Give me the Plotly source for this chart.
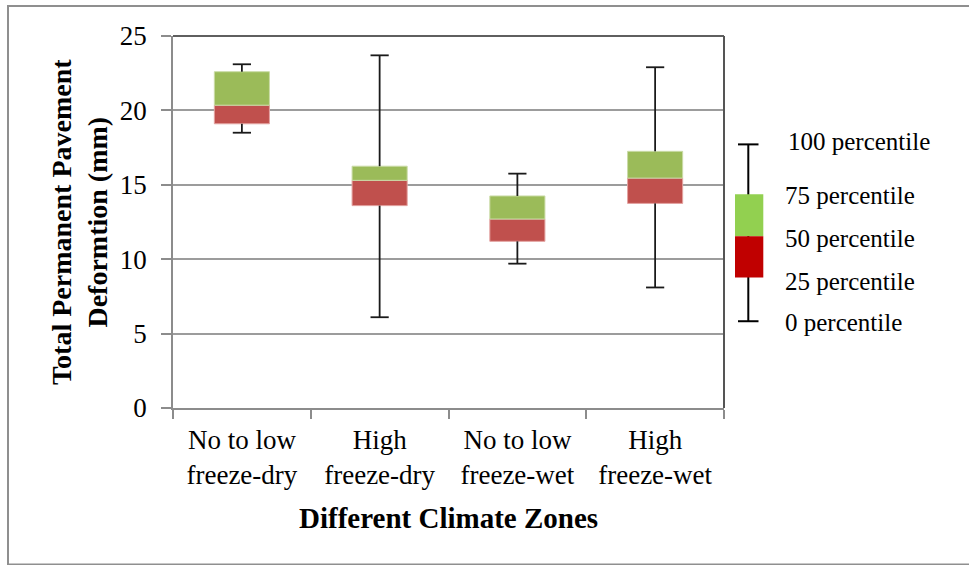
import plotly.graph_objects as go

# ---- data ----
categories = ["No to low<br>freeze-dry", "High<br>freeze-dry",
              "No to low<br>freeze-wet", "High<br>freeze-wet"]
p0 = [18.5, 6.1, 9.7, 8.1]
p25 = [19.1, 13.6, 11.2, 13.75]
p50 = [20.35, 15.3, 12.7, 15.45]
p75 = [22.6, 16.25, 14.25, 17.25]
p100 = [23.1, 23.7, 15.75, 22.9]
y_ticks = [0, 5, 10, 15, 20, 25]
legend_labels = ["100 percentile", "75 percentile", "50 percentile",
                 "25 percentile", "0 percentile"]

FONT = "Liberation Serif"
W, H = 969, 565
L, R, T, B = 173, 724, 36, 407.7   # plot area pixels


def px(x):
    return (x - L) / (R - L)


def py(y):
    return (B - y) / (B - T)


fig = go.Figure()

# boxes: 25-50 (red) and 50-75 (green)
fig.add_trace(go.Bar(
    x=categories, y=[m - q for m, q in zip(p50, p25)], base=p25,
    width=0.4, marker=dict(color="#C0504D", line=dict(color="#E3A3A1", width=1)),
    showlegend=False, hoverinfo="skip"))
fig.add_trace(go.Bar(
    x=categories, y=[q - m for q, m in zip(p75, p50)], base=p50,
    width=0.4, marker=dict(color="#9BBB59", line=dict(color="#CADBA6", width=1)),
    showlegend=False, hoverinfo="skip"))

# whiskers
wx, wy = [], []
for c, lo, q1, q3, hi in zip(categories, p0, p25, p75, p100):
    wx += [c, c, None, c, c, None]
    wy += [q3, hi, None, lo, q1, None]
fig.add_trace(go.Scatter(x=wx, y=wy, mode="lines",
                         line=dict(color="#1a1a1a", width=1.8),
                         showlegend=False, hoverinfo="skip"))
# caps
fig.add_trace(go.Scatter(
    x=categories + categories, y=p100 + p0, mode="markers",
    marker=dict(symbol="line-ew", size=13, line=dict(color="#1a1a1a", width=1.8)),
    showlegend=False, hoverinfo="skip"))

fig.update_layout(
    width=W, height=H,
    margin=dict(l=L, r=W - R, t=T, b=H - B),
    paper_bgcolor="white", plot_bgcolor="white",
    barmode="overlay",
    font=dict(family=FONT, color="black"),
    xaxis=dict(
        type="category", range=[-0.5, 3.5],
        tickson="boundaries", ticks="outside", ticklen=9, tickwidth=1.5,
        tickcolor="#8c8c8c", showline=True, linecolor="#8c8c8c", linewidth=1.5,
        showgrid=False, ticklabelstandoff=7,
        tickfont=dict(family=FONT, size=27, color="black"),
    ),
    yaxis=dict(
        range=[0, 25], tickvals=y_ticks, ticks="outside", ticklen=10,
        tickwidth=1.5, tickcolor="#8c8c8c", showline=True, linecolor="#8c8c8c",
        linewidth=1.5, showgrid=True, gridcolor="#9c9c9c", gridwidth=1.5,
        zeroline=False, ticklabelstandoff=9,
        tickfont=dict(family=FONT, size=27, color="black"),
    ),
)

shapes = []
# plot area top/right border
shapes.append(dict(type="line", xref="paper", yref="paper", x0=0, x1=1, y0=1, y1=1,
                   line=dict(color="#2a2a2a", width=1.5)))
shapes.append(dict(type="line", xref="paper", yref="paper", x0=1, x1=1, y0=0, y1=1,
                   line=dict(color="#555555", width=2)))
# outer chart border
shapes.append(dict(type="rect", xref="paper", yref="paper",
                   x0=px(8), x1=px(990), y0=py(564), y1=py(6),
                   line=dict(color="#8f8f8f", width=2), fillcolor="rgba(0,0,0,0)"))
# legend key
lx = 748.3
shapes.append(dict(type="line", xref="paper", yref="paper", x0=px(lx), x1=px(lx),
                   y0=py(144.3), y1=py(321), line=dict(color="black", width=2)))
for yy in (144.3, 321):
    shapes.append(dict(type="line", xref="paper", yref="paper", x0=px(738), x1=px(758.5),
                       y0=py(yy), y1=py(yy), line=dict(color="black", width=2)))
shapes.append(dict(type="rect", xref="paper", yref="paper", x0=px(735), x1=px(763.3),
                   y0=py(236), y1=py(194), fillcolor="#92D050", line=dict(width=0)))
shapes.append(dict(type="rect", xref="paper", yref="paper", x0=px(735), x1=px(763.3),
                   y0=py(277.3), y1=py(236), fillcolor="#C00000", line=dict(width=0)))
fig.update_layout(shapes=shapes)

annotations = []
leg_y = [141.7, 195, 238.3, 281.7, 322.7]
leg_x = [786, 783, 783, 783, 783]
for lab, xx, yy in zip(legend_labels, leg_x, leg_y):
    annotations.append(dict(text=lab, xref="paper", yref="paper", x=px(xx), y=py(yy),
                            xanchor="left", yanchor="middle", showarrow=False,
                            font=dict(family=FONT, size=25, color="black")))
annotations.append(dict(text="<b>Total Permanent Pavement<br>Deformtion (mm)</b>",
                        xref="paper", yref="paper", x=px(79), y=0.5, textangle=-90,
                        xanchor="center", yanchor="middle", showarrow=False,
                        font=dict(family=FONT, size=28, color="black")))
annotations.append(dict(text="<b>Different Climate Zones</b>",
                        xref="paper", yref="paper", x=0.5, y=py(518),
                        xanchor="center", yanchor="middle", showarrow=False,
                        font=dict(family=FONT, size=29, color="black")))
fig.update_layout(annotations=annotations)

fig.write_html("out.html")
